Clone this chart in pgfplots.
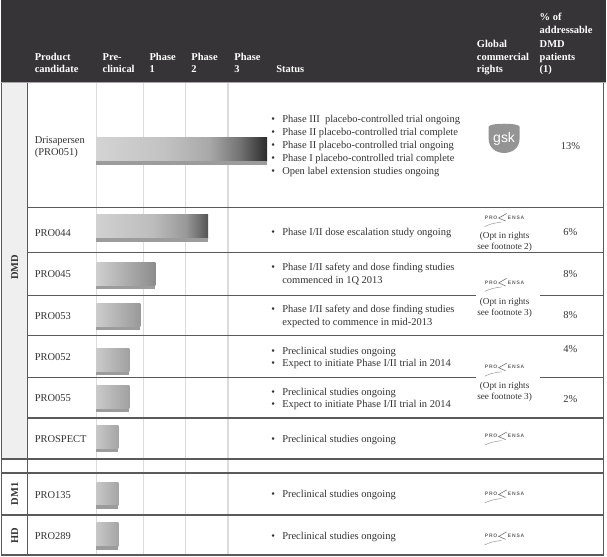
\documentclass[border=0pt]{standalone}
\usepackage{pgfplots}
\pgfplotsset{compat=1.18}
\usepackage{fontspec}
\setmainfont{Liberation Serif}
\setsansfont{Liberation Sans}
\definecolor{hdr}{HTML}{363436}
\definecolor{leftgray}{HTML}{EFEFEF}
\definecolor{gridc}{HTML}{DCDCDC}
\definecolor{rulec}{HTML}{5A5A5A}
\definecolor{txt}{HTML}{333333}
\definecolor{stripe}{HTML}{9C9C9C}
\pgfdeclarehorizontalshading{sdris}{100bp}{gray(0bp)=(0.83); gray(25bp)=(0.83); gray(45bp)=(0.76); gray(58bp)=(0.66); gray(67bp)=(0.45); gray(75bp)=(0.17); gray(100bp)=(0.17)}
\pgfdeclarehorizontalshading{sfour}{100bp}{gray(0bp)=(0.82); gray(25bp)=(0.82); gray(50bp)=(0.74); gray(65bp)=(0.60); gray(75bp)=(0.33); gray(100bp)=(0.33)}
\pgfdeclarehorizontalshading{sfive}{100bp}{gray(0bp)=(0.81); gray(25bp)=(0.81); gray(75bp)=(0.55); gray(100bp)=(0.55)}
\pgfdeclarehorizontalshading{sthree}{100bp}{gray(0bp)=(0.80); gray(25bp)=(0.80); gray(75bp)=(0.60); gray(100bp)=(0.60)}
\pgfdeclarehorizontalshading{stwo}{100bp}{gray(0bp)=(0.79); gray(25bp)=(0.79); gray(75bp)=(0.63); gray(100bp)=(0.63)}
\pgfdeclarehorizontalshading{sshort}{100bp}{gray(0bp)=(0.78); gray(25bp)=(0.78); gray(75bp)=(0.65); gray(100bp)=(0.65)}
\tikzset{
  px/.style={x=1pt,y=-1pt,shift={(0pt,558pt)}},
  hd/.style={anchor=base west, inner sep=0pt, text=white, font=\bfseries\fontsize{10.5}{12}\selectfont},
  bt/.style={anchor=base west, inner sep=0pt, text=txt, font=\fontsize{10.5}{12}\selectfont},
  rt/.style={anchor=base, inner sep=0pt, text=txt, font=\fontsize{9.2}{10}\selectfont},
  pc/.style={anchor=base, inner sep=0pt, text=txt, font=\fontsize{10.5}{12}\selectfont},
  grp/.style={rotate=90, inner sep=0pt, text=txt, font=\bfseries\fontsize{10.5}{12}\selectfont},
}
\newcommand{\bul}[2]{\node[bt] at (271,#1) {\textbullet}; \node[bt] at (282,#1) {#2};}
\newcommand{\prosensa}[1]{%
  \node[inner sep=0pt, text=black!60, font=\sffamily\bfseries\fontsize{5}{5}\selectfont] at (491.5,#1) {P\,R\,O};
  \node[inner sep=0pt, text=black!60, font=\sffamily\bfseries\fontsize{5}{5}\selectfont] at (516.5,#1) {E\,N\,S\,A};
  \draw[black!55, line width=0.6pt] (507,{#1-4}) -- (499,{#1+0.5}) -- (506,{#1+3.5});
  \draw[black!40, line width=0.5pt] (485,{#1+9}) .. controls (492,{#1+6}) .. (502,{#1+4.5});
}
\begin{document}
\begin{tikzpicture}
\begin{scope}[px]
  \fill[white] (0,0) rectangle (607,558);
  \fill[hdr] (0,0) rectangle (607,82);
  \fill[leftgray] (0,82) rectangle (27,460);
  \foreach \gx in {96,143,185,228} \draw[gridc, line width=1.4pt] (\gx,83) -- (\gx,556);
\end{scope}

\begin{axis}[at={(0,0)}, anchor=south west, scale only axis, width=607pt, height=558pt,
  xmin=-96, xmax=511, ymin=0, ymax=558, y dir=reverse, hide axis, clip=false]
% Drisapersen (Phase 3)
\addplot[xbar, bar width=23.5pt, draw=none, shade, shading=sdris] coordinates {(171,149.75)};
\addplot[xbar, bar width=3.5pt, draw=none, fill=stripe] coordinates {(171,163.5)};
% PRO044
\addplot[xbar, bar width=23.5pt, draw=none, shade, shading=sfour] coordinates {(112,226.75)};
\addplot[xbar, bar width=3.5pt, draw=none, fill=stripe] coordinates {(112,240.25)};
% PRO045
\addplot[xbar, bar width=23.5pt, draw=none, shade, shading=sfive] coordinates {(59,274.75)};
\addplot[xbar, bar width=3.5pt, draw=none, fill=stripe] coordinates {(59,288.25)};
% PRO053
\addplot[xbar, bar width=23.5pt, draw=none, shade, shading=sthree] coordinates {(44,315.75)};
\addplot[xbar, bar width=3.5pt, draw=none, fill=stripe] coordinates {(44,329.25)};
% PRO052
\addplot[xbar, bar width=23.5pt, draw=none, shade, shading=stwo] coordinates {(33,360.75)};
\addplot[xbar, bar width=3.5pt, draw=none, fill=stripe] coordinates {(33,374.25)};
% PRO055
\addplot[xbar, bar width=23.5pt, draw=none, shade, shading=stwo] coordinates {(33,397.75)};
\addplot[xbar, bar width=3.5pt, draw=none, fill=stripe] coordinates {(33,411.25)};
% PROSPECT
\addplot[xbar, bar width=23.5pt, draw=none, shade, shading=sshort] coordinates {(22,437.75)};
\addplot[xbar, bar width=3.5pt, draw=none, fill=stripe] coordinates {(22,451.25)};
% PRO135
\addplot[xbar, bar width=23.5pt, draw=none, shade, shading=sshort] coordinates {(22,494.75)};
\addplot[xbar, bar width=3.5pt, draw=none, fill=stripe] coordinates {(22,508.25)};
% PRO289
\addplot[xbar, bar width=23.5pt, draw=none, shade, shading=sshort] coordinates {(22,535.75)};
\addplot[xbar, bar width=3.5pt, draw=none, fill=stripe] coordinates {(22,549.25)};
\end{axis}

\begin{scope}[px]
  % rules
  \draw[black!35, line width=1.2pt] (0,82.5) -- (607,82.5);
  \foreach \ry in {208,253,336,419} \draw[rulec, line width=1.3pt] (27,\ry) -- (605,\ry);
  \foreach \ry in {296,378} {\draw[rulec, line width=1.3pt] (27,\ry) -- (476,\ry); \draw[rulec, line width=1.3pt] (540,\ry) -- (605,\ry);}
  \foreach \ry in {460,474,516,556} \draw[rulec, line width=1.3pt] (0,\ry) -- (605,\ry);
  \draw[rulec, line width=1.6pt] (27,83) -- (27,556);
  \draw[rulec, line width=1.3pt] (0.6,83) -- (0.6,556);
  \draw[rulec, line width=1.3pt] (604,83) -- (604,556);
  % header
  \node[hd] at (34,60.5) {Product};   \node[hd] at (34,73) {candidate};
  \node[hd] at (102,60.5) {Pre-};     \node[hd] at (102,73) {clinical};
  \node[hd] at (149,60.5) {Phase};    \node[hd] at (149,73) {1};
  \node[hd] at (191,60.5) {Phase};    \node[hd] at (191,73) {2};
  \node[hd] at (234,60.5) {Phase};    \node[hd] at (234,73) {3};
  \node[hd] at (276,73) {Status};
  \node[hd] at (477,47.5) {Global};   \node[hd] at (477,60.5) {commercial}; \node[hd] at (477,73) {rights};
  \node[hd] at (540,20.5) {\% of};    \node[hd] at (540,34) {addressable}; \node[hd] at (540,47.5) {DMD};
  \node[hd] at (540,60.5) {patients}; \node[hd] at (540,73) {(1)};
  % group labels
  \node[grp] at (14,268) {DMD};
  \node[grp] at (14,495) {DM1};
  \node[grp] at (14,537) {HD};
  % product names
  \node[bt] at (34,143.5) {Drisapersen};
  \node[bt] at (34,155.5) {(PRO051)};
  \node[bt] at (34,236.5) {PRO044};
  \node[bt] at (34,278.5) {PRO045};
  \node[bt] at (34,320.5) {PRO053};
  \node[bt] at (34,361.5) {PRO052};
  \node[bt] at (34,402.5) {PRO055};
  \node[bt] at (34,443.5) {PROSPECT};
  \node[bt] at (34,499.5) {PRO135};
  \node[bt] at (34,540.5) {PRO289};
  % status
  \bul{123}{Phase III\ \ placebo-controlled trial ongoing}
  \bul{136}{Phase II placebo-controlled trial complete}
  \bul{149}{Phase II placebo-controlled trial ongoing}
  \bul{161.5}{Phase I placebo-controlled trial complete}
  \bul{174.5}{Open label extension studies ongoing}
  \bul{235.5}{Phase I/II dose escalation study ongoing}
  \bul{271.5}{Phase I/II safety and dose finding studies}
  \node[bt] at (282,284.5) {commenced in 1Q 2013};
  \bul{313.5}{Phase I/II safety and dose finding studies}
  \node[bt] at (282,326.5) {expected to commence in mid-2013};
  \bul{355}{Preclinical studies ongoing}
  \bul{367.5}{Expect to initiate Phase I/II trial in 2014}
  \bul{396}{Preclinical studies ongoing}
  \bul{408.5}{Expect to initiate Phase I/II trial in 2014}
  \bul{443.5}{Preclinical studies ongoing}
  \bul{498.5}{Preclinical studies ongoing}
  \bul{541}{Preclinical studies ongoing}
  % rights
  \fill[black!42] (489,127) .. controls (489,123) and (520,123) .. (520,127) -- (520,139) .. controls (520,158) and (489,158) .. (489,139) -- cycle;
  \node[inner sep=0pt, text=white, font=\sffamily\fontsize{14}{14}\selectfont] at (504.5,139) {gsk};
  \prosensa{218}
  \node[rt] at (505,239) {(Opt in rights};
  \node[rt] at (505,250) {see footnote 2)};
  \prosensa{283}
  \node[rt] at (505,305) {(Opt in rights};
  \node[rt] at (505,316.5) {see footnote 3)};
  \prosensa{368}
  \node[rt] at (505,389) {(Opt in rights};
  \node[rt] at (505,400) {see footnote 3)};
  \prosensa{437}
  \prosensa{495}
  \prosensa{537}
  % percentages
  \node[pc] at (571,149.5) {13\%};
  \node[pc] at (571,235.5) {6\%};
  \node[pc] at (571,278.5) {8\%};
  \node[pc] at (571,319) {8\%};
  \node[pc] at (571,353.5) {4\%};
  \node[pc] at (571,403) {2\%};
\end{scope}
\end{tikzpicture}
\end{document}
